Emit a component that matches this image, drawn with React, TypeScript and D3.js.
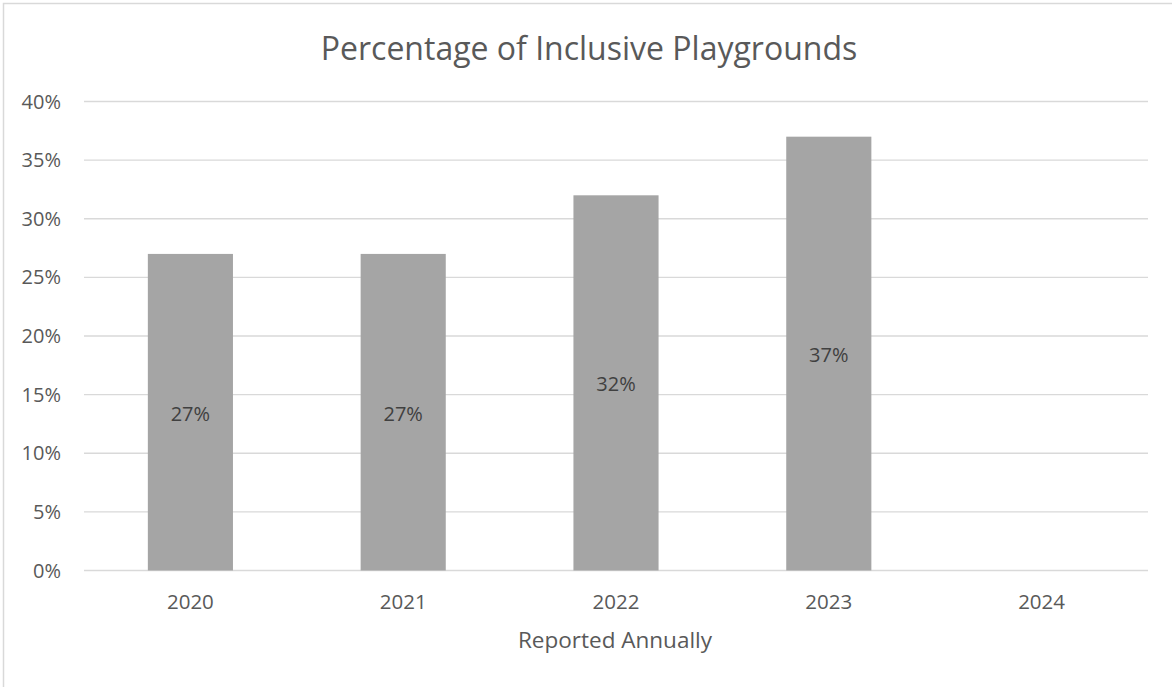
import React from "react";
import * as d3 from "d3";

const title = "Percentage of Inclusive Playgrounds";
const xAxisTitle = "Reported Annually";
const years = ["2020", "2021", "2022", "2023", "2024"];
const values: (number | null)[] = [0.27, 0.27, 0.32, 0.37, null];
const yTicks = [0, 0.05, 0.1, 0.15, 0.2, 0.25, 0.3, 0.35, 0.4];

const W = 1172;
const H = 687;
const FONT = "'Open Sans', 'Liberation Sans', sans-serif";
const TEXT = "#595959";

export default function App() {
  const x = d3.scaleBand<string>().domain(years).range([84, 1148]).paddingInner(0.6).paddingOuter(0.3);
  const y = d3.scaleLinear().domain([0, 0.4]).range([570.5, 101.5]);
  const fmt = d3.format(".0%");

  return (
    <svg width={W} height={H} style={{ position: "absolute", left: 0, top: 0 }}>
      <rect x={0} y={0} width={W} height={H} fill="#fff" />
      <rect x={3.5} y={3.5} width={W + 10} height={H + 10} fill="none" stroke="#d9d9d9" strokeWidth={1.5} />
      <text x={589} y={60} textAnchor="middle" fontFamily={FONT} fontSize={32} fill={TEXT}>{title}</text>
      {yTicks.map((t) => (
        <g key={t}>
          <line x1={84} x2={1148} y1={y(t)} y2={y(t)} stroke="#d9d9d9" strokeWidth={1.3} />
          <text x={61} y={y(t) + 7} textAnchor="end" fontFamily={FONT} fontSize={20} fill={TEXT}>{fmt(t)}</text>
        </g>
      ))}
      {years.map((yr, i) => {
        const v = values[i];
        const bx = x(yr)!;
        return (
          <g key={yr}>
            {v != null && (
              <>
                <rect x={bx} y={y(v)} width={x.bandwidth()} height={y(0) - y(v)} fill="#a5a5a5" />
                <text x={bx + x.bandwidth() / 2} y={(y(v) + y(0)) / 2 + 8.5} textAnchor="middle" fontFamily={FONT} fontSize={20} fill="#404040">{fmt(v)}</text>
              </>
            )}
            <text x={bx + x.bandwidth() / 2} y={608.5} textAnchor="middle" fontFamily={FONT} fontSize={20.5} fill={TEXT}>{yr}</text>
          </g>
        );
      })}
      <text x={615} y={648} textAnchor="middle" fontFamily={FONT} fontSize={22.5} fill={TEXT}>{xAxisTitle}</text>
    </svg>
  );
}
